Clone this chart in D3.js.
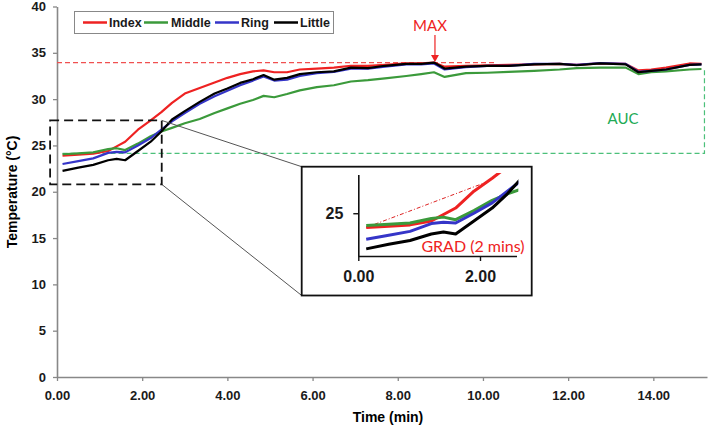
<!DOCTYPE html>
<html><head><meta charset="utf-8">
<script src="https://cdn.jsdelivr.net/npm/d3@7"></script>
<style>body{margin:0;background:#fff}svg{display:block}</style>
</head><body><svg id="c" width="709" height="428"></svg>
<script>
const times = [0.13,0.5,0.85,1.2,1.4,1.6,1.9,2.2,2.45,2.7,3.0,3.35,3.7,4.0,4.3,4.6,4.85,5.1,5.4,5.7,6.1,6.5,6.9,7.3,7.7,8.2,8.55,8.85,9.1,9.6,10.1,10.6,11.2,11.8,12.2,12.75,13.35,13.65,13.95,14.3,14.85,15.13];
const indexVals = [23.9,24.0,24.1,24.4,24.9,25.4,26.7,27.7,28.6,29.6,30.6,31.2,31.8,32.3,32.7,33.0,33.1,32.9,32.9,33.2,33.3,33.4,33.6,33.6,33.7,33.85,33.85,33.95,33.5,33.6,33.65,33.7,33.75,33.8,33.7,33.85,33.8,33.1,33.2,33.4,33.85,33.8];
const middleVals = [24.05,24.15,24.25,24.6,24.7,24.5,25.2,26.0,26.5,26.9,27.4,27.85,28.5,29.0,29.5,29.9,30.35,30.2,30.55,30.95,31.3,31.5,31.9,32.05,32.25,32.5,32.7,32.9,32.4,32.8,32.85,32.95,33.05,33.2,33.35,33.4,33.4,32.7,32.9,33.0,33.2,33.25];
const ringVals = [23.0,23.3,23.6,24.2,24.3,24.25,25.0,25.8,26.7,27.6,28.5,29.5,30.3,30.9,31.5,32.0,32.45,32.0,32.1,32.5,32.8,32.95,33.3,33.3,33.5,33.75,33.75,33.85,33.2,33.45,33.6,33.6,33.8,33.8,33.7,33.9,33.8,32.95,33.05,33.2,33.7,33.75];
const littleVals = [22.25,22.6,22.9,23.4,23.55,23.4,24.4,25.4,26.5,27.8,28.7,29.7,30.6,31.15,31.75,32.15,32.6,32.1,32.3,32.7,32.9,33.0,33.4,33.35,33.6,33.8,33.8,33.95,33.3,33.5,33.6,33.6,33.75,33.8,33.66,33.86,33.75,32.9,33.05,33.2,33.7,33.75];
const seriesNames = ["Index","Middle","Ring","Little"];
const seriesColors = ["#ee2222","#3b9a3b","#3535c8","#000000"];
const xTicks = [0,2,4,6,8,10,12,14];
const yTicks = [0,5,10,15,20,25,30,35,40];
const maxValue = 33.95, maxTime = 8.85, maxLineEnd = 10.3;
const aucBase = 24.15, aucEnd = 15.13, aucTop = 33.25;
const zoomBox = {t0:-0.15, t1:2.4, v0:20.8, v1:27.7};
const insetXTicks = [0,2];
const insetYTicks = [25];
const gradStart = [0.13,23.9], gradEnd = [2.05,27.3];

const series = [indexVals,middleVals,ringVals,littleVals].map((vals,i)=>({name:seriesNames[i],color:seriesColors[i],pts:times.map((t,j)=>[t,vals[j]])}));

const svg = d3.select("#c");
const x = d3.scaleLinear().domain([0,15.26]).range([57,707]);
const y = d3.scaleLinear().domain([0,40]).range([377,6.5]);
const bold = "'Liberation Sans',Arial,sans-serif";
const calib = "Lato,'Open Sans',sans-serif";

// axes
const xa = svg.append("g").attr("transform","translate(0,377)")
  .call(d3.axisBottom(x).tickValues(xTicks).tickFormat(d3.format(".2f")).tickSizeInner(4).tickSizeOuter(0));
const ya = svg.append("g").attr("transform","translate(57,0)")
  .call(d3.axisLeft(y).tickValues(yTicks).tickSizeInner(4).tickSizeOuter(0).tickPadding(7));
[xa,ya].forEach(a=>{
  a.select(".domain").attr("stroke","#888").attr("stroke-width",1.6);
  a.selectAll(".tick line").attr("stroke","#888").attr("stroke-width",1.3);
  a.selectAll("text").attr("font-family",bold).attr("font-weight","bold").attr("font-size",13).attr("fill","#1a1a1a");
});
xa.selectAll("text").attr("dy","1.25em");
svg.append("text").attr("x",388).attr("y",422).attr("text-anchor","middle")
  .attr("font-family",bold).attr("font-weight","bold").attr("font-size",14).text("Time (min)");
svg.append("text").attr("transform","translate(17,192) rotate(-90)").attr("text-anchor","middle")
  .attr("font-family",bold).attr("font-weight","bold").attr("font-size",14).text("Temperature (°C)");

// MAX line
svg.append("line").attr("x1",x(0)).attr("x2",x(maxLineEnd)).attr("y1",y(maxValue)).attr("y2",y(maxValue))
  .attr("stroke","#f05050").attr("stroke-width",1.2).attr("stroke-dasharray","5,3");
// AUC
svg.append("path").attr("d",`M${x(times[0])},${y(aucBase)}H${x(aucEnd)+3}V${y(aucTop)}`)
  .attr("fill","none").attr("stroke","#4cc07a").attr("stroke-width",1.2).attr("stroke-dasharray","5,3");

// lines
const line = d3.line().x(d=>x(d[0])).y(d=>y(d[1]));
series.forEach(s=>{
  svg.append("path").attr("d",line(s.pts)).attr("fill","none").attr("stroke",s.color).attr("stroke-width",2.2).attr("stroke-linejoin","round");
});

// MAX annotation
svg.append("text").attr("x",x(maxTime)-4).attr("y",31).attr("text-anchor","middle").attr("font-family",calib)
  .attr("font-size",15).attr("fill","#ee2222").text("MAX");
svg.append("line").attr("x1",x(maxTime)+1).attr("x2",x(maxTime)+1).attr("y1",35).attr("y2",57).attr("stroke","#ee2222").attr("stroke-width",1.2);
svg.append("path").attr("d",`M${x(maxTime)-3},55L${x(maxTime)+5},55L${x(maxTime)+1},62Z`).attr("fill","#ee2222");
svg.append("text").attr("x",623).attr("y",124).attr("text-anchor","middle").attr("font-family",calib)
  .attr("font-size",15).attr("fill","#22aa55").text("AUC");

// zoom rectangle and connectors
const zx0=x(zoomBox.t0)-0.5, zx1=x(zoomBox.t1)+2.5, zy0=y(zoomBox.v1), zy1=y(zoomBox.v0);
const inset = {x0:301.7,y0:166.7,x1:531.7,y1:295.5};
svg.append("line").attr("x1",zx1).attr("y1",zy0).attr("x2",inset.x0).attr("y2",inset.y0).attr("stroke","#555").attr("stroke-width",1);
svg.append("line").attr("x1",zx1).attr("y1",zy1).attr("x2",inset.x0).attr("y2",inset.y1).attr("stroke","#555").attr("stroke-width",1);
svg.append("rect").attr("x",zx0).attr("y",zy0).attr("width",zx1-zx0).attr("height",zy1-zy0)
  .attr("fill","none").attr("stroke","#111").attr("stroke-width",1.8).attr("stroke-dasharray","9,5");

// inset
svg.append("rect").attr("x",inset.x0).attr("y",inset.y0).attr("width",inset.x1-inset.x0).attr("height",inset.y1-inset.y0)
  .attr("fill","#fff").attr("stroke","#111").attr("stroke-width",1.8);
const ix = d3.scaleLinear().domain([0,2]).range([358.3,480]);
const iy = d3.scaleLinear().domain([21.7,27.95]).range([256,175]);
svg.append("defs").append("clipPath").attr("id","ic").append("rect").attr("x",358).attr("y",173).attr("width",ix(2.63)-358).attr("height",84);
const ig = svg.append("g");
const iline = d3.line().x(d=>ix(d[0])).y(d=>iy(d[1]));
const ixa = ig.append("g").attr("transform","translate(0,256)")
  .call(d3.axisBottom(ix).tickValues(insetXTicks).tickFormat(d3.format(".2f")).tickSizeInner(5).tickSizeOuter(0));
ixa.select(".domain").attr("d",`M358.3,0.5H517`);
const iya = ig.append("g").attr("transform","translate(358.3,0)")
  .call(d3.axisLeft(iy).tickValues(insetYTicks).tickFormat(d3.format("d")).tickSizeInner(5).tickSizeOuter(0).tickPadding(10));
iya.select(".domain").attr("d",`M0.5,175V256`);
[ixa,iya].forEach(a=>{
  a.select(".domain").attr("stroke","#111").attr("stroke-width",1.6);
  a.selectAll(".tick line").attr("stroke","#111").attr("stroke-width",1.4);
  a.selectAll("text").attr("font-family",bold).attr("font-weight","bold").attr("font-size",16).attr("fill","#1a1a1a");
});
ixa.selectAll("text").attr("dy","1.15em");
const il = ig.append("g").attr("clip-path","url(#ic)");
il.append("line").attr("x1",ix(gradStart[0])).attr("y1",iy(gradStart[1])).attr("x2",ix(gradEnd[0])).attr("y2",iy(gradEnd[1]))
  .attr("stroke","#dd2222").attr("stroke-width",1).attr("stroke-dasharray","4,2,1,2");
series.forEach(s=>{
  il.append("path").attr("d",iline(s.pts.filter(p=>p[0]<3.1))).attr("fill","none").attr("stroke",s.color).attr("stroke-width",3).attr("stroke-linejoin","round");
});
ig.append("text").attr("x",473).attr("y",252).attr("text-anchor","middle").attr("font-family",calib)
  .attr("font-size",16).attr("fill","#ee2222").text("GRAD (2 mins)");

// legend
const lg = svg.append("g");
lg.append("rect").attr("x",74.5).attr("y",11.5).attr("width",259).attr("height",22).attr("fill","#fff").attr("stroke","#888").attr("stroke-width",1);
const legItems = [{lx:83,tx:109},{lx:144,tx:171},{lx:215,tx:241},{lx:274,tx:300}];
series.forEach((s,i)=>{
  lg.append("line").attr("x1",legItems[i].lx).attr("x2",legItems[i].lx+24).attr("y1",22.5).attr("y2",22.5).attr("stroke",s.color).attr("stroke-width",2.5);
  lg.append("text").attr("x",legItems[i].tx).attr("y",27).attr("font-family",bold).attr("font-weight","bold").attr("font-size",12.5).attr("fill","#1a1a1a").text(s.name);
});
</script></body></html>
